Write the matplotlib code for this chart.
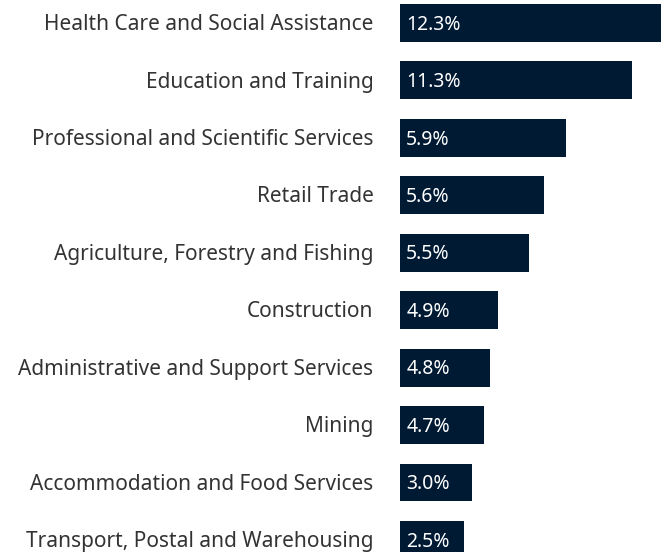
import matplotlib
matplotlib.use("Agg")
import matplotlib.pyplot as plt

plt.rcParams['font.family'] = ['Noto Sans', 'DejaVu Sans']

industries = [
    "Health Care and Social Assistance",
    "Education and Training",
    "Professional and Scientific Services",
    "Retail Trade",
    "Agriculture, Forestry and Fishing",
    "Construction",
    "Administrative and Support Services",
    "Mining",
    "Accommodation and Food Services",
    "Transport, Postal and Warehousing",
]
value_labels = ["12.3%", "11.3%", "5.9%", "5.6%", "5.5%",
                "4.9%", "4.8%", "4.7%", "3.0%", "2.5%"]
# bar lengths as drawn in the original (not proportional to the labels)
bar_len = [12.3, 10.93, 7.82, 6.79, 6.08, 4.62, 4.24, 3.96, 3.39, 3.02]

navy = "#001a33"

fig = plt.figure(figsize=(6.69, 5.52), dpi=100)
ax = fig.add_axes([400 / 669, 0, 269 / 669, 1])

y = list(range(len(industries)))
ax.barh(y, bar_len, height=0.66, color=navy)

for i, (name, lab) in enumerate(zip(industries, value_labels)):
    ax.annotate(name, xy=(0, i), xytext=(-19, -1.2), textcoords='offset points',
                ha='right', va='center', fontsize=15, color='#333333',
                annotation_clip=False)
    ax.annotate(lab, xy=(0, i), xytext=(4.5, -1.2), textcoords='offset points',
                ha='left', va='center', fontsize=14, color='white')

ax.set_xlim(0, 12.68)
ax.set_ylim(9.21, -0.40)
ax.axis('off')

fig.savefig("out.png", dpi=100)
